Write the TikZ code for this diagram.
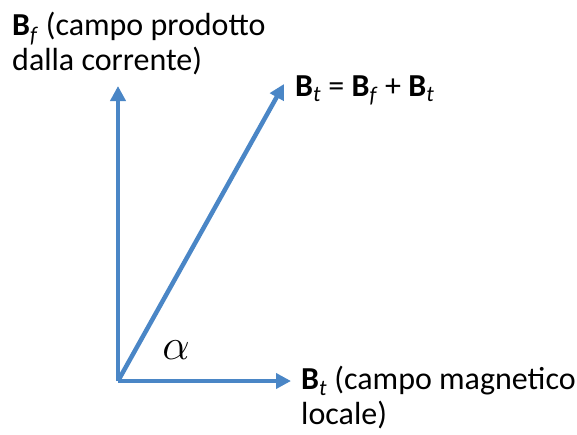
\documentclass[tikz,border=0pt]{standalone}
\usepackage{fontspec}
\setmainfont{Carlito}
\usetikzlibrary{arrows.meta}
\definecolor{Vec}{HTML}{4A86C6}
\tikzset{
vecarrow/.style={-{Triangle[length=15pt,width=15pt]}, line width=4.5pt, draw=Vec},
veclabel/.style={inner sep=0pt, align=left, font=\fontsize{32}{35}\selectfont}
}

\begin{document}
\begin{tikzpicture}[x=1pt, y=-1pt]
  \useasboundingbox (0,0) rectangle (577,434);
  \coordinate (orig) at (118,381);
  \coordinate (bftip) at (118,86);
  \coordinate (bttip) at (284,84);
  \coordinate (bltip) at (291,381);
  \node[veclabel, anchor=north west] (bflabel) at (12,12) {\textbf{B}\textsubscript{\textit{f}} (campo prodotto\\dalla corrente)};
  \node[veclabel, anchor=base west] (btlabel) at (295,96) {\textbf{B}\textsubscript{\textit{t}} = \textbf{B}\textsubscript{\textit{f}} + \textbf{B}\textsubscript{\textit{t}}};
  \node[veclabel, anchor=north west] (bllabel) at (301,366) {\textbf{B}\textsubscript{\textit{t}} (campo magnetico\\locale)};
  \node[inner sep=0pt, font=\fontsize{20}{20}\selectfont, scale=2.1] (angle) at (176,350) {$\alpha$};
  \draw[vecarrow] (orig) -- (bftip);
  \draw[vecarrow] (orig) -- (bttip);
  \draw[vecarrow] (orig) -- (bltip);
\end{tikzpicture}
\end{document}
